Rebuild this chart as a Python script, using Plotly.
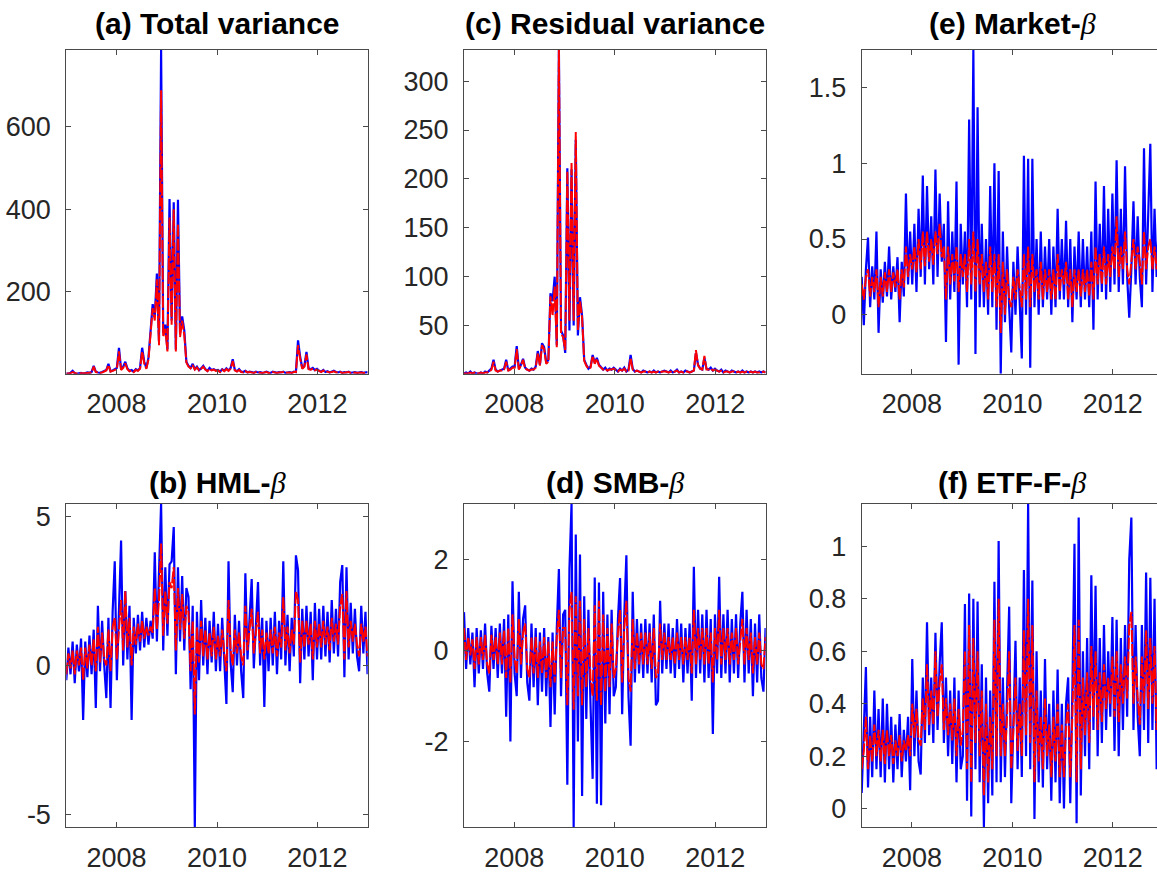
import pandas as pd
import plotly.graph_objects as go

W, H = 1157, 875

# Semi-monthly observation dates, 2007 through 2012 (24 per year)
obs_dates = pd.date_range("2007-01-01", "2012-12-31", periods=144)

# ---- (a) Total variance ----
total_var_blue = [
    2, 1, 3, 8, 2, 1, 2, 3, 1, 2, 4, 3, 5, 20, 6, 4, 3, 5, 8, 10, 25, 7, 9, 12,
    15, 64, 12, 18, 30, 14, 8, 10, 6, 12, 9, 15, 64, 30, 15, 40, 110, 170, 140, 244, 80, 787, 100, 120,
    60, 425, 130, 417, 60, 423, 100, 140, 106, 30, 20, 15, 25, 12, 18, 10, 14, 20, 12, 8, 15, 10, 12, 9,
    10, 6, 12, 8, 14, 9, 15, 36, 10, 7, 12, 6, 5, 8, 4, 6, 5, 3, 6, 4, 5, 3, 4, 6,
    4, 3, 6, 4, 3, 5, 4, 6, 3, 4, 5, 3, 6, 5, 82, 42, 15, 20, 54, 14, 12, 15, 10, 13,
    8, 6, 10, 5, 7, 4, 6, 8, 5, 4, 6, 3, 5, 4, 6, 3, 4, 5, 3, 4, 5, 3, 4, 5,
]
total_var_red = [
    1, 1, 2, 5, 2, 1, 2, 2, 1, 2, 3, 3, 4, 18, 5, 4, 3, 4, 7, 9, 22, 6, 8, 10,
    12, 55, 10, 15, 26, 12, 7, 9, 5, 10, 8, 13, 55, 26, 13, 35, 100, 160, 130, 230, 70, 689, 90, 110,
    55, 380, 120, 400, 55, 365, 90, 130, 95, 28, 18, 14, 22, 11, 16, 9, 13, 18, 11, 7, 13, 9, 11, 8,
    9, 5, 11, 7, 12, 8, 13, 32, 9, 6, 10, 5, 4, 7, 4, 5, 4, 3, 5, 4, 4, 3, 4, 5,
    3, 3, 5, 4, 3, 4, 4, 5, 3, 4, 4, 3, 5, 5, 70, 38, 13, 18, 48, 12, 11, 13, 9, 11,
    7, 5, 9, 5, 6, 4, 5, 7, 4, 4, 5, 3, 4, 4, 5, 3, 4, 4, 3, 4, 4, 3, 4, 4,
]

# ---- (c) Residual variance ----
resid_var_blue = [
    1, 2, 1, 3, 1, 2, 1, 1, 2, 1, 3, 2, 4, 6, 15, 5, 3, 4, 5, 6, 15, 4, 6, 8,
    8, 29, 6, 10, 16, 7, 5, 4, 6, 5, 8, 24, 10, 32, 28, 12, 15, 83, 75, 100, 30, 332, 45, 40,
    22, 211, 45, 210, 50, 240, 40, 79, 60, 15, 10, 6, 8, 20, 12, 17, 10, 8, 5, 7, 4, 6, 5, 7,
    5, 3, 6, 4, 7, 3, 5, 20, 6, 3, 4, 3, 2, 4, 3, 2, 3, 2, 4, 2, 3, 2, 3, 4,
    3, 2, 4, 2, 3, 5, 2, 3, 2, 4, 3, 2, 3, 4, 22, 10, 6, 5, 17, 6, 5, 7, 4, 6,
    4, 3, 5, 2, 4, 3, 2, 4, 3, 2, 3, 2, 4, 2, 3, 2, 3, 2, 3, 2, 3, 2, 3, 2,
]
resid_var_red = [
    1, 1, 1, 2, 1, 2, 1, 1, 2, 1, 2, 2, 3, 5, 13, 4, 3, 4, 4, 5, 13, 4, 5, 7,
    7, 26, 5, 9, 15, 6, 5, 4, 5, 5, 7, 22, 9, 30, 26, 11, 13, 80, 60, 90, 28, 332, 42, 38,
    25, 208, 55, 217, 55, 248, 45, 75, 58, 14, 9, 6, 7, 19, 11, 16, 9, 7, 5, 6, 4, 5, 5, 6,
    4, 3, 5, 4, 6, 3, 4, 17, 5, 3, 4, 3, 2, 3, 3, 2, 3, 2, 3, 2, 3, 2, 3, 3,
    3, 2, 3, 2, 3, 4, 2, 3, 2, 3, 3, 2, 3, 4, 25, 9, 6, 5, 19, 5, 5, 6, 4, 5,
    4, 3, 4, 2, 3, 3, 2, 3, 3, 2, 3, 2, 3, 2, 3, 2, 3, 2, 3, 2, 2, 2, 3, 2,
]

# ---- (e) Market beta ----
mkt_beta_blue = [
    0.25, -0.07, 0.3, 0.51, 0.05, 0.32, 0.1, 0.55, -0.12, 0.3, 0.08, 0.35,
    0.12, 0.45, 0.1, 0.32, 0.15, 0.38, -0.05, 0.35, 0.12, 0.8, 0.2, 0.55,
    0.2, 0.6, 0.15, 0.7, 0.25, 0.92, 0.2, 0.85, 0.3, 0.65, 0.2, 0.96,
    0.25, 0.8, 0.35, 0.6, -0.18, 0.75, 0.1, 0.55, 0.15, 0.88, -0.33, 0.6,
    0.2, 0.55, 0.05, 1.29, 0.1, 1.75, -0.26, 1.37, 0.05, 0.6, 0.05, 0.5,
    0.0, 0.85, 0.05, 1.0, -0.1, 0.95, -0.39, 0.55, -0.05, 0.45, 0.05, -0.25,
    0.35, 0.0, 0.45, 0.05, -0.29, 1.05, 0.0, 1.03, -0.35, 1.03, 0.05, 0.5,
    0.0, 0.55, 0.05, 0.45, 0.1, 0.5, 0.0, 0.45, 0.05, 0.7, 0.1, 0.5,
    0.1, 0.62, 0.05, 0.5, -0.05, 0.45, 0.1, 0.55, 0.05, 0.5, 0.1, 0.45,
    0.05, 0.55, -0.1, 0.88, 0.1, 0.6, 0.15, 0.85, 0.1, 0.7, 0.15, 0.8,
    0.2, 1.02, 0.15, 0.7, 0.2, 0.98, 0.25, -0.02, 0.3, 0.75, 0.2, 0.65,
    0.25, 0.05, 1.1, 0.2, 0.6, 1.13, 0.15, 0.7, 0.25, 0.6, 0.3, 0.55,
]
mkt_beta_red = [
    0.2, 0.1, 0.25, 0.3, 0.12, 0.25, 0.15, 0.3, 0.05, 0.25, 0.12, 0.28,
    0.15, 0.3, 0.15, 0.28, 0.18, 0.3, 0.1, 0.3, 0.18, 0.45, 0.25, 0.4,
    0.3, 0.45, 0.28, 0.5, 0.3, 0.55, 0.32, 0.55, 0.35, 0.5, 0.33, 0.55,
    0.4, 0.6, 0.38, 0.45, 0.1, 0.45, 0.2, 0.4, 0.22, 0.45, 0.15, 0.4,
    0.25, 0.4, 0.15, 0.5, 0.2, 0.55, 0.15, 0.5, 0.2, 0.4, 0.15, 0.35,
    0.1, 0.45, 0.15, 0.4, 0.05, 0.4, -0.12, 0.35, 0.0, 0.3, 0.1, 0.05,
    0.25, 0.1, 0.3, 0.15, 0.05, 0.4, 0.1, 0.45, 0.05, 0.4, 0.15, 0.3,
    0.1, 0.35, 0.1, 0.3, 0.15, 0.3, 0.1, 0.3, 0.1, 0.4, 0.15, 0.3,
    0.2, 0.35, 0.1, 0.3, 0.05, 0.3, 0.15, 0.3, 0.12, 0.3, 0.15, 0.3,
    0.12, 0.35, 0.1, 0.45, 0.2, 0.4, 0.2, 0.45, 0.2, 0.4, 0.25, 0.45,
    0.3, 0.65, 0.25, 0.45, 0.3, 0.55, 0.3, 0.2, 0.35, 0.5, 0.3, 0.45,
    0.35, 0.2, 0.55, 0.3, 0.45, 0.5, 0.3, 0.45, 0.3, 0.4, 0.3, 0.35,
]

# ---- (b) HML beta ----
hml_beta_blue = [
    -0.5, 0.6, -0.3, 0.8, -0.6, 0.7, -0.2, 0.9, -1.84, 0.8, -0.4, 1.0,
    -0.3, 1.2, -1.43, 2.0, -0.2, 1.5, 0.0, -1.1, 1.6, -1.43, 1.8, 3.5,
    -0.5, 1.5, 4.2, 0.0, 2.5, 0.2, 2.0, -1.84, 1.6, 0.4, 1.7, 0.5,
    1.8, 0.6, 1.6, 0.7, 1.5, 0.9, 3.8, 0.8, 2.8, 5.44, 0.5, 3.3,
    1.0, 3.4, 3.5, 4.65, -0.3, 3.3, 0.8, 3.0, 0.5, 2.6, 2.3, -0.8,
    2.0, -5.45, 1.8, -0.5, 2.2, 0.0, 1.6, -0.3, 1.5, 0.1, 1.8, -0.2,
    1.4, -0.2, 1.6, 0.0, -1.3, 3.5, 0.1, -0.9, 1.7, 0.0, 1.5, -0.2,
    -1.1, 3.1, 0.2, 1.6, 2.9, -0.1, 1.4, 2.8, 0.0, 1.6, -1.4, 1.5,
    -0.2, 1.6, 0.0, 1.8, -0.3, 1.5, 0.2, 3.5, 0.0, 1.7, -0.2, 1.6,
    0.3, 3.7, 3.2, -0.6, 1.9, 0.2, 2.0, 0.3, 1.8, -0.5, 2.1, 0.2,
    1.9, 0.2, 2.0, 0.3, 1.8, 0.1, 2.2, 0.4, 1.9, 0.3, 2.8, 3.37,
    -0.4, 3.3, 0.2, 2.1, 0.4, 1.9, 0.3, -0.2, 2.0, 0.4, 1.8, -0.3,
]
hml_beta_red = [
    -0.3, 0.4, -0.1, 0.5, -0.3, 0.5, 0.0, 0.6, -0.5, 0.6, -0.1, 0.7,
    0.0, 0.9, -0.2, 1.3, 0.1, 1.1, 0.2, 0.0, 1.2, -0.2, 1.3, 1.6,
    0.2, 1.2, 2.2, 0.5, 2.5, 0.6, 1.6, 0.0, 1.3, 0.7, 1.4, 0.8,
    1.5, 0.9, 1.3, 1.0, 1.3, 1.1, 2.6, 1.2, 2.2, 4.1, 1.0, 2.5,
    1.4, 2.8, 2.6, 3.3, 0.5, 2.6, 1.2, 2.4, 0.9, 2.0, 1.8, -0.2,
    1.5, -1.65, 1.3, 0.1, 1.5, 0.3, 1.2, 0.2, 1.1, 0.3, 1.3, 0.2,
    1.0, 0.3, 1.2, 0.4, -0.2, 2.2, 0.5, 0.0, 1.2, 0.4, 1.1, 0.3,
    0.0, 2.0, 0.5, 1.2, 1.9, 0.4, 1.1, 1.8, 0.4, 1.2, 0.2, 1.1,
    0.4, 1.2, 0.4, 1.3, 0.3, 1.1, 0.6, 2.3, 0.5, 1.3, 0.4, 1.2,
    0.7, 2.5, 2.2, 0.1, 1.5, 0.6, 1.5, 0.7, 1.4, 0.2, 1.5, 0.6,
    1.4, 0.6, 1.5, 0.7, 1.3, 0.5, 1.6, 0.8, 1.4, 0.7, 2.0, 2.4,
    0.2, 2.5, 0.6, 1.5, 0.8, 1.4, 0.7, 0.3, 1.4, 0.8, 1.3, 0.3,
]

# ---- (d) SMB beta ----
smb_beta_blue = [
    0.85, -0.4, 0.5, -0.3, 0.4, -0.8, 0.5, -0.5, 0.45, -0.4, 0.6, -0.5,
    -0.9, 0.55, -0.4, 0.5, -0.6, 0.6, -0.5, 0.7, -1.45, 0.8, -2.0, 1.53,
    -0.5, -1.0, 1.3, -0.6, 0.7, 1.0, -0.7, -1.1, 0.6, -0.8, 0.5, -1.2,
    0.4, -0.9, 0.5, -1.0, 0.3, -1.68, 0.4, -1.4, 0.5, 1.8, -1.0, 0.8,
    0.9, -2.95, 1.8, 3.24, -3.89, 2.56, -2.0, 2.12, -3.2, 1.2, -1.5, 0.9,
    -1.2, -2.82, 1.61, -3.37, 1.5, -3.4, 1.3, -1.6, 0.8, -1.4, 0.9, -1.0,
    -0.8, 0.7, 1.6, -1.4, 0.8, 2.1, -1.0, -2.09, 1.3, -0.7, 0.7, -0.5,
    0.6, -0.6, 0.7, -0.5, 0.6, -0.7, 0.8, -1.2, -1.1, 1.1, -0.5, 0.6,
    -0.4, 0.6, -0.5, 0.5, -0.6, 0.7, -0.4, 0.6, -0.7, 0.5, -0.5, 0.6,
    -1.1, 1.85, -0.6, 0.9, -0.5, 0.8, -0.7, 0.9, -0.6, 0.7, -1.83, 0.8,
    -0.5, 1.63, -0.6, 0.8, -0.5, 0.9, -0.7, 0.7, -0.5, 0.8, -0.6, 0.6,
    1.3, -0.7, 0.9, -0.5, 0.7, -1.0, 0.6, -0.7, 0.8, -0.6, -0.9, 0.5,
]
smb_beta_red = [
    0.5, -0.2, 0.3, -0.1, 0.25, -0.4, 0.3, -0.3, 0.3, -0.2, 0.35, -0.3,
    -0.5, 0.35, -0.2, 0.3, -0.3, 0.4, -0.3, 0.45, -0.6, 0.5, -0.7, 0.8,
    -0.2, -0.5, 0.7, -0.3, 0.4, 0.6, -0.4, -0.6, 0.3, -0.5, 0.3, -0.6,
    0.2, -0.5, 0.3, -0.6, 0.2, -0.8, 0.2, -0.7, 0.3, 0.9, -0.6, 0.5,
    0.5, -1.2, 0.9, 1.3, -1.3, 1.2, -1.0, 1.1, -1.2, 0.7, -0.8, 0.5,
    -0.6, -1.0, 1.0, -1.1, 1.1, -1.2, 0.8, -0.9, 0.5, -0.8, 0.6, -0.6,
    -0.4, 0.4, 0.9, -0.7, 0.5, 1.1, -0.6, -0.9, 0.7, -0.4, 0.4, -0.3,
    0.4, -0.3, 0.4, -0.3, 0.4, -0.4, 0.5, -0.6, -0.5, 0.6, -0.2, 0.4,
    -0.2, 0.3, -0.2, 0.3, -0.3, 0.4, -0.2, 0.3, -0.3, 0.3, -0.2, 0.3,
    -0.5, 0.9, -0.3, 0.5, -0.2, 0.5, -0.3, 0.5, -0.3, 0.4, -0.7, 0.5,
    -0.2, 0.9, -0.3, 0.5, -0.2, 0.5, -0.3, 0.4, -0.2, 0.5, -0.3, 0.3,
    0.7, -0.3, 0.5, -0.2, 0.4, -0.5, 0.3, -0.3, 0.4, -0.3, -0.4, 0.3,
]

# ---- (f) ETF-F beta ----
etf_beta_blue = [
    0.06, 0.3, 0.54, 0.08, 0.35, 0.12, 0.45, 0.15, 0.38, 0.12, 0.42, 0.1,
    0.4, 0.15, 0.35, 0.1, 0.32, 0.15, 0.36, 0.12, 0.3, 0.18, 0.35, 0.07,
    0.57, 0.2, 0.45, 0.18, 0.13, 0.5, 0.25, 0.71, 0.28, 0.5, 0.25, 0.67,
    0.3, 0.55, 0.71, 0.25, 0.5, 0.2, 0.45, 0.17, 0.5, 0.1, 0.45, 0.15,
    0.2, 0.78, 0.03, 0.82, -0.03, 0.8, 0.15, 0.79, 0.1, 0.55, -0.07, 0.5,
    0.02, 0.45, 0.05, 0.865, 0.1, 1.02, 0.1, 0.5, 0.12, 0.45, 0.77, 0.02,
    0.3, 0.64, 0.15, 0.5, 0.12, 0.91, 0.2, 1.163, 0.15, 0.87, -0.04, 0.6,
    0.1, 0.45, 0.08, 0.57, 0.15, 0.4, 0.03, 0.45, 0.1, 0.53, 0.02, 0.4,
    0.0, 0.4, 0.5, 0.02, 0.45, 1.01, -0.056, 1.11, 0.05, 0.6, 0.2, 0.65,
    0.15, 0.89, 0.3, 0.85, 0.2, 0.65, 0.25, 0.7, 0.3, 0.6, 0.35, 0.73,
    0.22, 0.72, 0.2, 0.65, 0.3, 0.7, 0.35, 0.95, 1.11, 0.3, 0.7, 0.35,
    0.2, 0.7, 0.3, 0.9, 0.25, 0.88, 0.3, 0.8, 0.15, 0.6, 0.3, 0.55,
]
etf_beta_red = [
    0.15, 0.22, 0.35, 0.15, 0.28, 0.18, 0.32, 0.2, 0.3, 0.18, 0.3, 0.17,
    0.3, 0.2, 0.28, 0.17, 0.26, 0.2, 0.28, 0.18, 0.26, 0.22, 0.28, 0.2,
    0.4, 0.27, 0.38, 0.26, 0.24, 0.42, 0.3, 0.55, 0.32, 0.45, 0.32, 0.6,
    0.35, 0.48, 0.55, 0.3, 0.42, 0.28, 0.4, 0.26, 0.42, 0.2, 0.38, 0.24,
    0.3, 0.6, 0.15, 0.7, 0.1, 0.65, 0.25, 0.6, 0.2, 0.45, 0.05, 0.4,
    0.1, 0.35, 0.15, 0.72, 0.2, 0.8, 0.2, 0.4, 0.2, 0.35, 0.6, 0.15,
    0.3, 0.5, 0.22, 0.4, 0.2, 0.68, 0.28, 0.8, 0.25, 0.7, 0.1, 0.45,
    0.18, 0.35, 0.15, 0.42, 0.2, 0.32, 0.12, 0.35, 0.18, 0.4, 0.12, 0.32,
    0.12, 0.32, 0.4, 0.12, 0.35, 0.7, 0.1, 0.72, 0.15, 0.5, 0.28, 0.52,
    0.25, 0.62, 0.35, 0.6, 0.3, 0.52, 0.33, 0.55, 0.38, 0.5, 0.4, 0.58,
    0.35, 0.6, 0.33, 0.55, 0.4, 0.58, 0.42, 0.7, 0.75, 0.4, 0.58, 0.42,
    0.32, 0.58, 0.4, 0.68, 0.38, 0.65, 0.4, 0.62, 0.3, 0.5, 0.4, 0.48,
]

# Axis ticks for each panel
x_tickvals = ["2008-01-01", "2010-01-01", "2012-01-01"]
x_ticktext = ["2008", "2010", "2012"]

BETA = '<span style="font-family:Liberation Serif"><i>β</i></span>'

panels = [
    dict(title="<b>(a) Total variance</b>", blue=total_var_blue, red=total_var_red,
         yrange=[1, 787], yticks=[200, 400, 600], ytext=["200", "400", "600"], col=0, row=0),
    dict(title="<b>(c) Residual variance</b>", blue=resid_var_blue, red=resid_var_red,
         yrange=[0.8, 332], yticks=[50, 100, 150, 200, 250, 300],
         ytext=["50", "100", "150", "200", "250", "300"], col=1, row=0),
    dict(title="<b>(e) Market-</b>" + BETA, blue=mkt_beta_blue, red=mkt_beta_red,
         yrange=[-0.39, 1.75], yticks=[0, 0.5, 1, 1.5], ytext=["0", "0.5", "1", "1.5"], col=2, row=0),
    dict(title="<b>(b) HML-</b>" + BETA, blue=hml_beta_blue, red=hml_beta_red,
         yrange=[-5.45, 5.44], yticks=[-5, 0, 5], ytext=["-5", "0", "5"], col=0, row=1),
    dict(title="<b>(d) SMB-</b>" + BETA, blue=smb_beta_blue, red=smb_beta_red,
         yrange=[-3.89, 3.24], yticks=[-2, 0, 2], ytext=["-2", "0", "2"], col=1, row=1),
    dict(title="<b>(f) ETF-F-</b>" + BETA, blue=etf_beta_blue, red=etf_beta_red,
         yrange=[-0.072, 1.163], yticks=[0, 0.2, 0.4, 0.6, 0.8, 1],
         ytext=["0", "0.2", "0.4", "0.6", "0.8", "1"], col=2, row=1),
]

# Plot-area geometry in pixels
col_px = [(66.3, 367.7), (464.0, 765.7), (861.7, 1163.1)]
row_px = [(49.0, 374.0), (504.3, 829.3)]
title_y_px = [23, 483]

x_start = pd.Timestamp("2007-01-01")
x_end = pd.Timestamp("2013-01-01")

AX_COLOR = "#4a4a4a"
TICK_FONT = dict(family="Liberation Sans, Arial, sans-serif", size=27, color="#262626")

fig = go.Figure()
annotations = []

for i, p in enumerate(panels, start=1):
    xa = "x" if i == 1 else f"x{i}"
    ya = "y" if i == 1 else f"y{i}"
    fig.add_trace(go.Scatter(x=obs_dates, y=p["blue"], mode="lines",
                             line=dict(color="#0000ff", width=2.2),
                             xaxis=xa, yaxis=ya, hoverinfo="skip"))
    fig.add_trace(go.Scatter(x=obs_dates, y=p["red"], mode="lines",
                             line=dict(color="#ff0000", width=2.0, dash="12px,2px"),
                             xaxis=xa, yaxis=ya, hoverinfo="skip"))

    x0, x1 = col_px[p["col"]]
    y0, y1 = row_px[p["row"]]
    clipped = x1 > W
    xr_end = x_end
    if clipped:
        frac = (W - x0) / (x1 - x0)
        xr_end = x_start + (x_end - x_start) * frac
    dom_x = [x0 / W, min(x1, W) / W]
    dom_y = [1 - y1 / H, 1 - y0 / H]

    xaxis = dict(domain=dom_x, anchor=ya, type="date",
                 range=[x_start, xr_end],
                 tickvals=x_tickvals, ticktext=x_ticktext,
                 showline=True, linecolor=AX_COLOR, linewidth=1, mirror="ticks",
                 ticks="inside", ticklen=5, tickcolor=AX_COLOR, tickwidth=1,
                 showgrid=False, zeroline=False, tickfont=TICK_FONT,
                 ticklabelstandoff=6)
    yaxis = dict(domain=dom_y, anchor=xa, range=p["yrange"],
                 tickvals=p["yticks"], ticktext=p["ytext"],
                 showline=True, linecolor=AX_COLOR, linewidth=1,
                 mirror=False if clipped else "ticks",
                 ticks="inside", ticklen=5, tickcolor=AX_COLOR, tickwidth=1,
                 showgrid=False, zeroline=False, tickfont=TICK_FONT,
                 ticklabelstandoff=9)
    key = "" if i == 1 else str(i)
    fig.layout["xaxis" + key] = xaxis
    fig.layout["yaxis" + key] = yaxis

    annotations.append(dict(
        text=p["title"], xref="paper", yref="paper",
        x=(x0 + x1) / 2 / W, y=1 - title_y_px[p["row"]] / H,
        xanchor="center", yanchor="middle", showarrow=False,
        font=dict(family="Liberation Sans, Arial, sans-serif", size=30, color="#000000"),
    ))

fig.update_layout(
    width=W, height=H,
    margin=dict(l=0, r=0, t=0, b=0),
    paper_bgcolor="white", plot_bgcolor="white",
    showlegend=False,
    annotations=annotations,
)

fig.write_html("out.html")
